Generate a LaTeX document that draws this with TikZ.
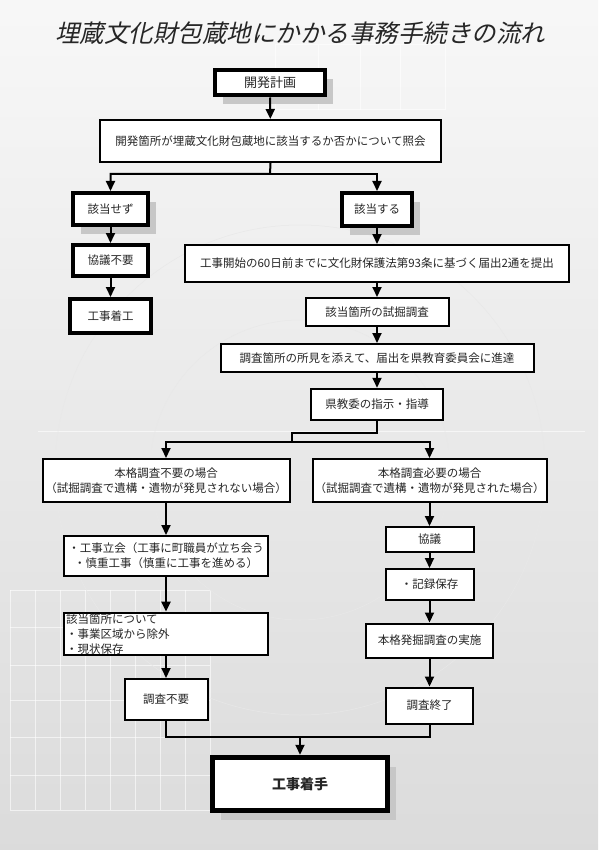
\documentclass[tikz,border=0pt]{standalone}
\usepackage{fontspec}
\setmainfont{Noto Sans CJK JP}
\newfontfamily\titlefont[FakeSlant=0.22]{Noto Sans CJK JP}
\usepackage{xcolor}
\usetikzlibrary{positioning, arrows.meta, shadows}

\newcommand{\boxfont}{\fontsize{11.5}{15}\selectfont}

\begin{document}
\begin{tikzpicture}[
    x=1pt, y=-1pt,
    box/.style={rectangle, draw, fill=white, line width=2pt, align=center, inner sep=2pt, text=black!85, font=\boxfont},
    boldbox/.style={box, line width=4pt},
    shadebox/.style={drop shadow={shadow xshift=8pt, shadow yshift=-9pt, fill=black!22, opacity=1}},
    arrow/.style={-{Triangle[length=10pt, width=9pt]}, line width=2pt},
    link/.style={line width=2pt}
]

% background
\useasboundingbox (0,0) rectangle (598,850);
\shade[top color=black!3, bottom color=black!14] (0,0) rectangle (598,850);
\begin{scope}[white, line width=1pt, opacity=0.6]
  \foreach \gx in {275,318,360,400,445} \draw (\gx,45) -- (\gx,110);
  \draw (275,45) -- (445,45);
  \draw (275,110) -- (445,110);
  \draw (38,431) -- (585,431);
  \foreach \gx in {10,35,60,85,110,135,160,185,210} \draw (\gx,590) -- (\gx,810);
  \foreach \gy in {590,627,665,700,737,775,810} \draw (10,\gy) -- (210,\gy);
\end{scope}
\draw[black!9, line width=0.5pt] (300,470) circle (150);
\draw[black!9, line width=0.5pt] (300,470) circle (245);

% title
\node[font=\titlefont\fontsize{24.5}{28}\selectfont, text=black!85] (title) at (300,33) {埋蔵文化財包蔵地にかかる事務手続きの流れ};

% upper part
\node[boldbox, shadebox, minimum width=110, minimum height=25, font=\fontsize{13}{15}\selectfont] (kaihatsu) at (270,83) {開発計画};
\node[box, minimum width=341, minimum height=42] (shokai) at (270.5,141) {開発箇所が埋蔵文化財包蔵地に該当するか否かについて照会};

\node[boldbox, shadebox, minimum width=75, minimum height=32] (gaitousezu) at (110.5,209) {該当せず};
\node[boldbox, minimum width=75, minimum height=31] (kyougifuyou) at (110.5,260.5) {協議不要};
\node[boldbox, minimum width=81, minimum height=34] (chakkou) at (110.5,316) {工事着工};

\node[boldbox, shadebox, minimum width=70, minimum height=33] (gaitousuru) at (377,209.5) {該当する};
\node[box, minimum width=384, minimum height=37] (todoke) at (377,263.5) {工事開始の60日前までに文化財保護法第93条に基づく届出2通を提出};
\node[box, minimum width=143, minimum height=28] (shikutsu) at (377,312) {該当箇所の試掘調査};
\node[box, minimum width=313, minimum height=28] (shintatsu) at (377,358) {調査箇所の所見を添えて、届出を県教育委員会に進達};
\node[box, line width=2.5pt, minimum width=132, minimum height=31] (kenkyoui) at (377,404.5) {県教委の指示・指導};

\coordinate (split1) at (270,174);
\draw[arrow] (kaihatsu) -- (shokai);
\draw[arrow] (shokai.south) -- (split1) -| (gaitousezu.north);
\draw[arrow] (split1) -| (gaitousuru.north);
\draw[arrow] (gaitousezu) -- (kyougifuyou);
\draw[arrow] (kyougifuyou) -- (chakkou);
\draw[arrow] (gaitousuru) -- (todoke);
\draw[arrow] (todoke) -- (shikutsu);
\draw[arrow] (shikutsu) -- (shintatsu);
\draw[arrow] (shintatsu) -- (kenkyoui);

% lower part
\node[box, minimum width=247, minimum height=43] (fuyou) at (166,480.5) {本格調査不要の場合\\（試掘調査で遺構・遺物が発見されない場合）};
\node[box, minimum width=231, minimum height=43] (hitsuyou) at (429.5,480.5) {本格調査必要の場合\\（試掘調査で遺構・遺物が発見された場合）};

\coordinate (bend1) at (292,433);
\coordinate (split2) at (292,442);
\draw[link] (kenkyoui.south) |- (bend1) -- (split2);
\draw[arrow] (split2) -| (fuyou.north);
\draw[arrow] (split2) -| (hitsuyou.north);

\node[box, minimum width=204, minimum height=40] (tachiai) at (166,556) {・工事立会（工事に町職員が立ち会う\\・慎重工事（慎重に工事を進める）};
\node[box, minimum width=204, minimum height=40, text width=200, align=left, inner sep=1pt] (jogai) at (166,634) {該当箇所について\\・事業区域から除外\\・現状保存};
\node[box, minimum width=83, minimum height=41] (chousafuyou) at (166,699.5) {調査不要};

\node[box, minimum width=88, minimum height=25] (kyougi) at (429.5,539.5) {協議};
\node[box, minimum width=88, minimum height=31] (kiroku) at (429.5,584.5) {・記録保存};
\node[box, minimum width=127, minimum height=34] (jisshi) at (429.5,640.5) {本格発掘調査の実施};
\node[box, minimum width=87, minimum height=36] (shuuryou) at (429.5,705.5) {調査終了};

\draw[arrow] (fuyou) -- (tachiai);
\draw[arrow] (tachiai) -- (jogai);
\draw[arrow] (jogai) -- (chousafuyou);
\draw[arrow] (hitsuyou) -- (kyougi);
\draw[arrow] (kyougi) -- (kiroku);
\draw[arrow] (kiroku) -- (jisshi);
\draw[arrow] (jisshi) -- (shuuryou);

\node[boldbox, shadebox, line width=5.5pt, minimum width=175, minimum height=53, font=\bfseries\fontsize{14}{16}\selectfont] (chakushu) at (300,784) {工事着手};

\coordinate (merge) at (300,737);
\draw[link] (chousafuyou.south) |- (merge) -| (shuuryou.south);
\draw[arrow] (merge) -- (chakushu.north);

\end{tikzpicture}
\end{document}
